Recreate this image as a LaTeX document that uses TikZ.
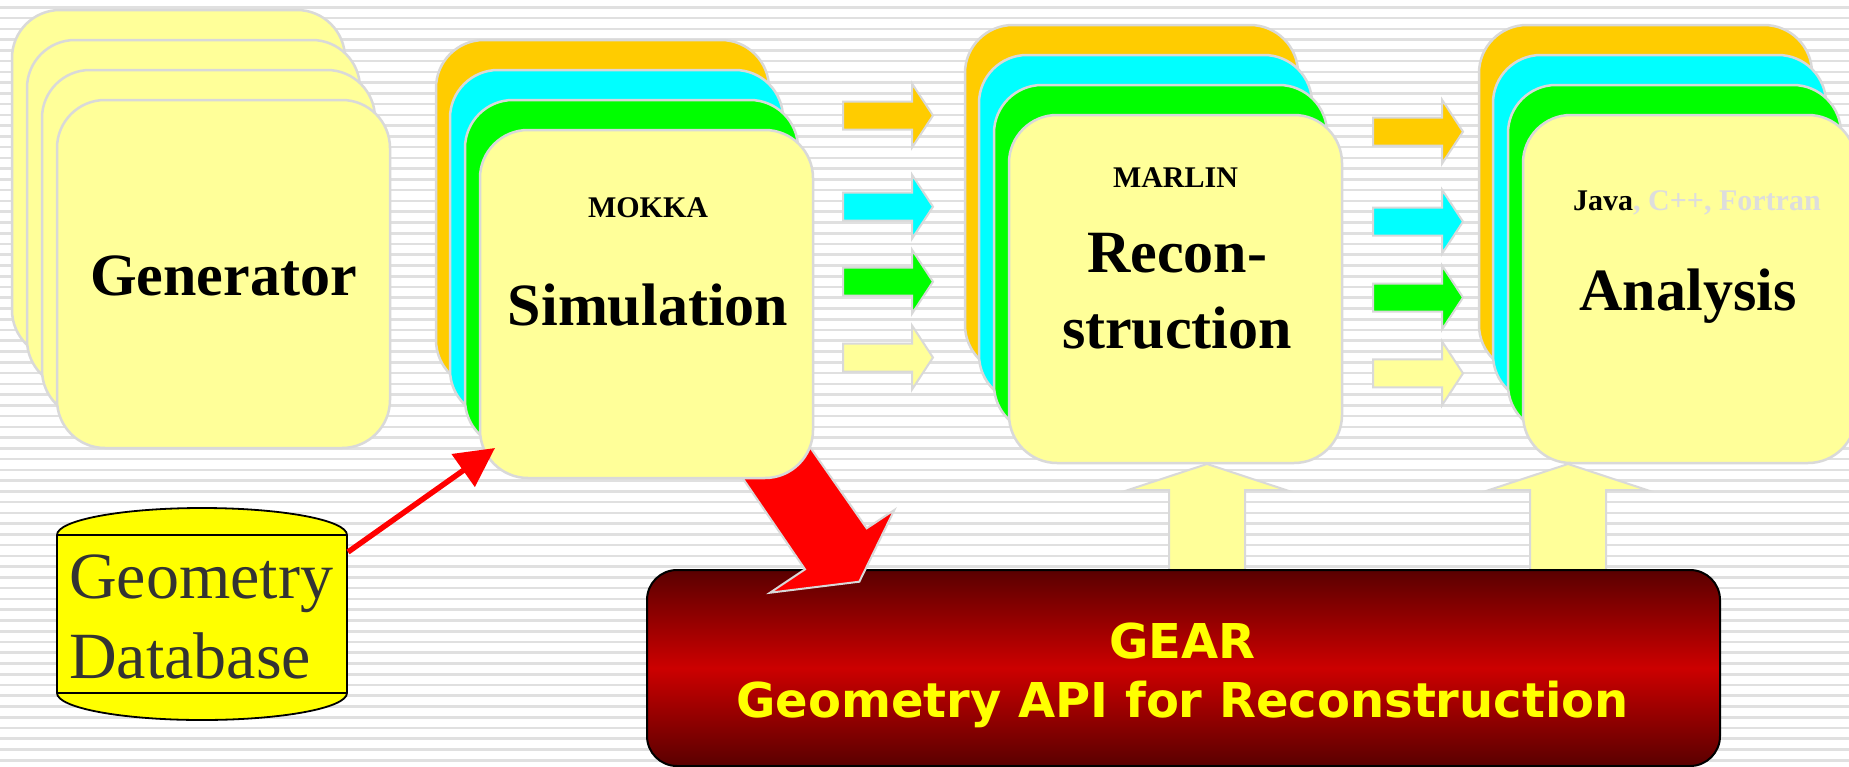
\documentclass[tikz,border=0pt]{standalone}
\usepackage{fontspec}
\setmainfont{Liberation Serif}
\newfontfamily\gearfont{DejaVu Sans}
\usetikzlibrary{arrows.meta}
\definecolor{cOr}{HTML}{FFCC00}
\definecolor{cCy}{HTML}{00FFFF}
\definecolor{cGr}{HTML}{00FF00}
\definecolor{cYe}{HTML}{FFFF99}
\definecolor{edgec}{HTML}{D9D9D9}
\definecolor{stripec}{HTML}{E0E0E0}
\definecolor{gearDark}{HTML}{5A0000}
\definecolor{gearMid}{HTML}{CC0000}
\definecolor{dbYe}{HTML}{FFFF00}
\definecolor{dbText}{HTML}{333333}
\definecolor{langGray}{HTML}{DDDDDD}
\definecolor{gearText}{HTML}{FFFF00}
\begin{document}
\begin{tikzpicture}[x=1pt,y=-1pt,
  card/.style={draw=edgec, line width=2.5pt, rounded corners=48pt,
    minimum width=333pt, minimum height=348pt, inner sep=0pt, outer sep=0pt, anchor=north west},
  blockarrow/.style={draw=edgec, line width=2pt, line join=miter},
  rarrow/.pic={\path[pic actions] (0,-14) -- (69,-14) -- (69,-32) -- (90,0) -- (69,32) -- (69,14) -- (0,14) -- cycle;},
  uarrow/.pic={\path[pic actions] (0,0) -- (79,26) -- (38,26) -- (38,106) -- (-38,106) -- (-38,26) -- (-79,26) -- cycle;},
  bigtext/.style={anchor=base, inner sep=0pt, font=\fontsize{60pt}{66pt}\selectfont\bfseries},
  smalltext/.style={anchor=base, inner sep=0pt, font=\fontsize{30pt}{34pt}\selectfont\bfseries},
  dbtext/.style={anchor=base west, inner sep=0pt, text=dbText, font=\fontsize{66pt}{70pt}\selectfont},
  geartext/.style={anchor=base, inner sep=0pt, text=gearText, font=\gearfont\fontsize{48pt}{54pt}\selectfont\bfseries},
  stripe/.style={draw=stripec, line width=2.6pt},
  dbarrow/.style={draw=red, line width=5.5pt, -{Triangle[length=39pt,width=39pt]}},
  bigred/.style={fill=red, draw=edgec, line width=2pt, line join=miter}
]
\useasboundingbox (0,0) rectangle (1849,766);
\fill[white] (0,0) rectangle (1849,766);
\foreach \i in {0,...,70} \draw[stripe] (0,{7.3+10.757*\i}) -- (1849,{7.3+10.757*\i});

% up arrows from GEAR
\pic[blockarrow, fill=cYe] at (1207,464) {uarrow};
\pic[blockarrow, fill=cYe] at (1568,464) {uarrow};

% GEAR box
\node[draw=black, line width=2pt, rounded corners=30pt, minimum width=1073pt, minimum height=196pt,
      inner sep=0pt, anchor=north west, top color=gearDark, bottom color=gearDark, middle color=gearMid]
      (gear) at (646,569) {};
\node[geartext] (gear1) at (1182.5,658) {GEAR};
\node[geartext] (gear2) at (1182.5,717) {Geometry API for Reconstruction};

% big red arrow from simulation to GEAR (behind the simulation cards, over the GEAR box)
\path[bigred] (709.7,430) -- (805,569.3) -- (770,592.7) -- (859.3,581.7) -- (894.3,510) -- (866.7,528.3) -- (791,420) -- cycle;

% Generator stack
\node[card, fill=cYe] (gen1) at (12,10) {};
\node[card, fill=cYe] (gen2) at (27,40) {};
\node[card, fill=cYe] (gen3) at (42,70) {};
\node[card, fill=cYe] (gen4) at (57,100) {};
\node[bigtext] (gentxt) at (223.5,295) {Generator};

% Simulation stack
\node[card, fill=cOr] (sim1) at (436,40) {};
\node[card, fill=cCy] (sim2) at (450,70) {};
\node[card, fill=cGr] (sim3) at (465,100) {};
\node[card, fill=cYe] (sim4) at (480,130) {};
\node[smalltext] (mokka) at (648,217) {MOKKA};
\node[bigtext] (simtxt) at (648,325) {Simulation};

% arrows simulation -> reconstruction
\pic[blockarrow, fill=cOr] at (843,115.5) {rarrow};
\pic[blockarrow, fill=cCy] at (843,206.7) {rarrow};
\pic[blockarrow, fill=cGr] at (843,281.7) {rarrow};
\pic[blockarrow, fill=cYe] at (843,357.5) {rarrow};

% Reconstruction stack
\node[card, fill=cOr] (rec1) at (965,25) {};
\node[card, fill=cCy] (rec2) at (979,55) {};
\node[card, fill=cGr] (rec3) at (994,85) {};
\node[card, fill=cYe] (rec4) at (1009,115) {};
\node[smalltext] (marlin) at (1175.5,187) {MARLIN};
\node[bigtext] (rectxt1) at (1177,272) {Recon-};
\node[bigtext] (rectxt2) at (1177,348) {struction};

% arrows reconstruction -> analysis
\pic[blockarrow, fill=cOr] at (1373,131.7) {rarrow};
\pic[blockarrow, fill=cCy] at (1373,221.7) {rarrow};
\pic[blockarrow, fill=cGr] at (1373,297.5) {rarrow};
\pic[blockarrow, fill=cYe] at (1373,373.3) {rarrow};

% Analysis stack
\node[card, fill=cOr] (ana1) at (1479,25) {};
\node[card, fill=cCy] (ana2) at (1493,55) {};
\node[card, fill=cGr] (ana3) at (1508,85) {};
\node[card, fill=cYe] (ana4) at (1523,115) {};
\node[smalltext, anchor=base west] (lang) at (1573,210) {Java{\color{langGray}, C++, Fortran}};
\node[bigtext] (anatxt) at (1688,310) {Analysis};

% Geometry database cylinder
\path[fill=dbYe, draw=black, line width=1.8pt]
  (57,535) -- (57,693)
  .. controls (57,707.9) and (121.9,720) .. (202,720)
  .. controls (282.1,720) and (347,707.9) .. (347,693)
  -- (347,535)
  .. controls (347,520.1) and (282.1,508) .. (202,508)
  .. controls (121.9,508) and (57,520.1) .. (57,535) -- cycle;
\draw[black, line width=1.8pt] (57,535) -- (347,535);
\draw[black, line width=1.8pt] (57,693) -- (347,693);
\node[inner sep=0pt, minimum width=290pt, minimum height=158pt] (db) at (202,614) {};
\node[dbtext] (dbl1) at (69,598) {Geometry};
\node[dbtext] (dbl2) at (69,678) {Database};

% arrow database -> simulation
\coordinate (dbout) at (348,552);
\coordinate (simin) at (495,448);
\draw[dbarrow] (dbout) -- (simin);
\end{tikzpicture}
\end{document}
